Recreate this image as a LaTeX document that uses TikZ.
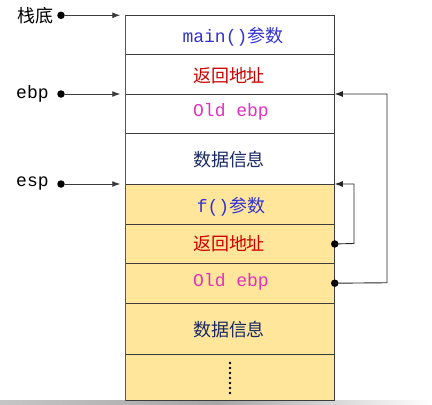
\documentclass[tikz,border=0pt]{standalone}
\usepackage{fontspec}
\setmonofont{Liberation Mono}
\newfontfamily\cjk{Noto Sans CJK SC}
\usetikzlibrary{arrows.meta}
\definecolor{stackyellow}{RGB}{255,230,155}
\definecolor{txtblue}{RGB}{50,50,210}
\definecolor{txtred}{RGB}{204,0,0}
\definecolor{txtmag}{RGB}{225,50,190}
\definecolor{txtnavy}{RGB}{25,40,100}
\definecolor{edgegray}{RGB}{60,60,60}
\tikzset{
  cell/.style={draw=edgegray, line width=0.9pt, minimum width=208.6pt, inner sep=0pt, anchor=north},
  ycell/.style={cell, fill=stackyellow},
  mono/.style={font=\fontsize{18}{20}\ttfamily},
  cjkt/.style={font=\fontsize{18}{20}\cjk},
  lbl/.style={anchor=west, inner sep=0pt},
  dotn/.style={circle, fill=black, inner sep=0pt, minimum size=7.5pt},
  ptr/.style={draw=edgegray, line width=0.9pt, -{Latex[length=8pt,width=6pt]}},
  link/.style={draw=black!85, line width=0.9pt, -{Latex[length=8pt,width=6pt]}},
}
\begin{document}
\begin{tikzpicture}[x=1pt,y=-1pt]
\useasboundingbox (0,0) rectangle (432,405);
% bottom shadow
\shade[left color=gray!45, right color=white, middle color=gray!70] (0,400) rectangle (432,405);
% stack cells
\node[cell, minimum height=38.7pt] (r1) at (230,15.3) {};
\node[cell, minimum height=40pt] (r2) at (230,54) {};
\node[cell, minimum height=39pt] (r3) at (230,94) {};
\node[cell, minimum height=51pt] (r4) at (230,133) {};
\node[ycell, minimum height=40pt] (r5) at (230,184) {};
\node[ycell, minimum height=39pt] (r6) at (230,224) {};
\node[ycell, minimum height=39.5pt] (r7) at (230,263) {};
\node[ycell, minimum height=51.5pt] (r8) at (230,302.5) {};
\node[ycell, minimum height=46pt] (r9) at (230,354) {};
\draw[gray!70!black, line width=1.3pt] (r1.north west) -- (r9.south west);
% texts
\node[text=txtblue] (t1) at (233,37) {\fontsize{18}{20}\ttfamily main()\fontsize{18}{20}\cjk 参数};
\node[cjkt, text=txtred] (t2) at (229,76) {返回地址};
\node[mono, text=txtmag] (t3) at (231,112) {Old ebp};
\node[cjkt, text=txtnavy] (t4) at (229,160) {数据信息};
\node[text=txtblue] (t5) at (231,207) {\fontsize{18}{20}\ttfamily f()\fontsize{18}{20}\cjk 参数};
\node[cjkt, text=txtred] (t6) at (229,244) {返回地址};
\node[mono, text=txtmag] (t7) at (231,282) {Old ebp};
\node[cjkt, text=txtnavy] (t8) at (229,330) {数据信息};
\foreach \i in {0,...,6} {\fill (230,363+5*\i) circle (1.3pt);}
% left labels
\node[lbl, cjkt] (l1) at (17,16) {栈底};
\node[lbl, mono] (l2) at (16,94) {ebp};
\node[lbl, mono] (l3) at (16,184) {esp};
\node[dotn] (d1) at (61,15.3) {};
\node[dotn] (d2) at (61,94) {};
\node[dotn] (d3) at (61,184) {};
\coordinate (a1) at ([xshift=-5pt]r1.north west);
\coordinate (a2) at ([xshift=-5pt]r3.north west);
\coordinate (a3) at ([xshift=-5pt]r5.north west);
\draw[ptr] (d1) -- (a1);
\draw[ptr] (d2) -- (a2);
\draw[ptr] (d3) -- (a3);
% right links
\node[dotn] (e1) at (r6.east) {};
\node[dotn] (e2) at (r7.east) {};
\draw[link] (e1.center) -- (354,243.5) -- (354,184) -- (r5.north east);
\draw[link] (e2.center) -- (387,282.75) -- (387,94) -- (r3.north east);
\end{tikzpicture}
\end{document}
